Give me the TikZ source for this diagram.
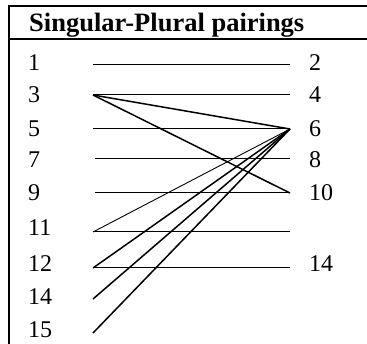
\documentclass[tikz,border=0pt]{standalone}
\usepackage{fontspec}
\setmainfont{Liberation Serif}
\begin{document}
\begin{tikzpicture}[x=1pt,y=-1pt,
  num/.style={anchor=west,inner sep=0pt,font=\fontsize{24}{24}\selectfont},
  hline/.style={line width=1pt},
  dline/.style={line width=1.5pt},
  tline/.style={line width=0.9pt},
  frame/.style={line width=1.1pt}]
\useasboundingbox (0,0) rectangle (367,344);
% frame
\coordinate (tl) at (9,6);
\coordinate (tr) at (367,6);
\coordinate (hl) at (9,39);
\coordinate (hr) at (367,39);
\coordinate (bl) at (9,344);
\draw[frame] (tr) -- (tl) -- (bl);
\draw[frame] (hl) -- (hr);
\node[anchor=base west,inner sep=0pt,font=\fontsize{26.5}{26.5}\selectfont\bfseries] (title) at (29,31.5) {Singular-Plural pairings};
% left labels
\node[num] (l1) at (28,63) {1};
\node[num] (l3) at (28,95) {3};
\node[num] (l5) at (28,129) {5};
\node[num] (l7) at (28,160) {7};
\node[num] (l9) at (28,193) {9};
\node[num] (l11) at (28,228) {11};
\node[num] (l12) at (28,264) {12};
\node[num] (l14) at (28,297) {14};
\node[num] (l15) at (28,330) {15};
% right labels
\node[num] (r2) at (309,63) {2};
\node[num] (r4) at (309,95) {4};
\node[num] (r6) at (309,129) {6};
\node[num] (r8) at (309,160) {8};
\node[num] (r10) at (309,193) {10};
\node[num] (r14) at (309,264) {14};
% line ends
\coordinate (a1) at (93,65);  \coordinate (b2) at (290,65);
\coordinate (a3) at (93,95);  \coordinate (b4) at (290,95);
\coordinate (a5) at (93,129); \coordinate (b6) at (290,129);
\coordinate (a7) at (95,159); \coordinate (b8) at (290,159);
\coordinate (a9) at (95,193); \coordinate (b10) at (290,193);
\coordinate (a11) at (93,232); \coordinate (b11) at (290,232);
\coordinate (a12) at (93,268); \coordinate (b14) at (290,268);
\coordinate (a14) at (93,299);
\coordinate (a15) at (93,333);
% horizontal pairings
\draw[hline] (a1) -- (b2);
\draw[hline] (a3) -- (b4);
\draw[hline] (a5) -- (b6);
\draw[hline] (a7) -- (b8);
\draw[hline] (a9) -- (b10);
\draw[hline] (a11) -- (b11);
\draw[hline] (a12) -- (b14);
% diagonal pairings
\draw[dline] (a3) -- (b6);
\draw[dline] (a3) -- (b10);
\draw[tline] (a11) -- (b6);
\draw[dline] (a12) -- (b6);
\draw[dline] (a14) -- (b6);
\draw[dline] (a15) -- (b6);
\end{tikzpicture}
\end{document}
